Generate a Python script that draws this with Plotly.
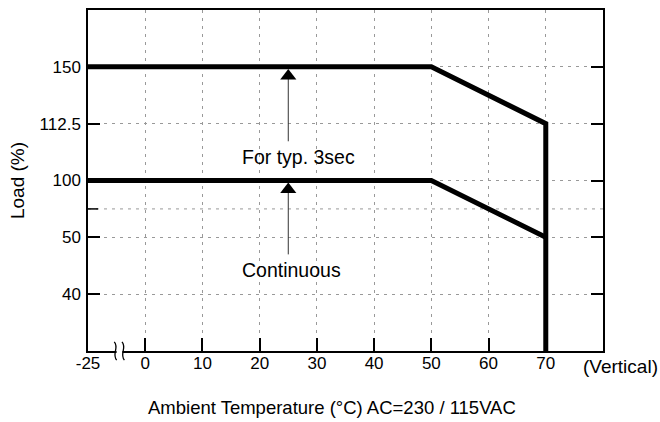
import numpy as np
import plotly.graph_objects as go

# ---- data ----
x_tick_labels = ["-25", "0", "10", "20", "30", "40", "50", "60", "70"]
x_tick_values = [-25, 0, 10, 20, 30, 40, 50, 60, 70]
y_tick_labels = ["40", "50", "100", "112.5", "150"]
y_tick_values = [40, 50, 100, 112.5, 150]

temp_3sec = [-25, 50, 70, 70]
load_3sec = [150, 150, 112.5, 0]      # 0 = down to the axis floor
temp_cont = [-25, 50, 70]
load_cont = [100, 100, 50]

# ---- broken scales (axis break after -25, stepped load axis) ----
X_BREAK_IN = [-25, 0, 80]
X_BREAK_OUT = [-10, 0, 80]
Y_IN = [0] + y_tick_values + [190]
Y_OUT = list(range(len(Y_IN)))


def sx(v):
    return np.interp(v, X_BREAK_IN, X_BREAK_OUT)


def sy(v):
    return np.interp(v, Y_IN, Y_OUT)


X_RANGE = [-10, 80]
Y_RANGE = [0, 6]
FONT = "Liberation Sans, Arial, sans-serif"
FS_TICK = 17
FS_TITLE = 18.5
FS_NOTE = 19.5

fig = go.Figure()

fig.add_trace(go.Scatter(x=sx(temp_3sec), y=sy(load_3sec), mode="lines",
                         line=dict(color="black", width=5), hoverinfo="skip",
                         showlegend=False))
fig.add_trace(go.Scatter(x=sx(temp_cont), y=sy(load_cont), mode="lines",
                         line=dict(color="black", width=5), hoverinfo="skip",
                         showlegend=False))

# arrows (shaft + triangle head)
arrow_x = 25
for level, shaft_bottom in [(150, 3.69), (100, 1.70)]:
    top = sy(level)
    fig.add_trace(go.Scatter(x=[arrow_x, arrow_x], y=[shaft_bottom, top - 0.2],
                             mode="lines", line=dict(color="#333", width=1),
                             hoverinfo="skip", showlegend=False))
    fig.add_trace(go.Scatter(x=[arrow_x], y=[top - 0.16], mode="markers",
                             marker=dict(symbol="triangle-up", size=14, color="black",
                                         line=dict(width=0)),
                             hoverinfo="skip", showlegend=False))

# labels
fig.add_annotation(x=16.6, y=3.41, xref="x", yref="y", text="For typ. 3sec",
                   showarrow=False, xanchor="left", yanchor="middle",
                   font=dict(family=FONT, size=FS_NOTE, color="black"))
fig.add_annotation(x=16.6, y=1.43, xref="x", yref="y", text="Continuous",
                   showarrow=False, xanchor="left", yanchor="middle",
                   font=dict(family=FONT, size=FS_NOTE, color="black"))
fig.add_annotation(x=1, y=0, xref="paper", yref="paper", text="(Vertical)",
                   showarrow=False, xanchor="left", yanchor="middle",
                   xshift=-22, yshift=-15,
                   font=dict(family=FONT, size=19, color="black"))
fig.add_annotation(x=0.5, y=0, xref="paper", yref="paper",
                   text="Ambient Temperature (°C) AC=230 / 115VAC",
                   showarrow=False, xanchor="center", yanchor="middle",
                   xshift=-14, yshift=-56,
                   font=dict(family=FONT, size=FS_TITLE, color="black"))


def px_x(v):
    return (v - X_RANGE[0]) / (X_RANGE[1] - X_RANGE[0])


# extra unlabeled gridline between 50 and 100
mid = 2.5
fig.add_shape(type="line", xref="paper", yref="y", x0=0, x1=1, y0=mid, y1=mid,
              line=dict(color="#999", width=1, dash="3px,5px"), layer="below")
fig.add_shape(type="line", xref="paper", yref="y", x0=0, x1=10 / 515, y0=mid, y1=mid,
              line=dict(color="black", width=1.5))

# axis break squiggles
h = 0.16 / (Y_RANGE[1] - Y_RANGE[0])
w = 4 / 515
fig.add_shape(type="rect", xref="paper", yref="paper",
              x0=px_x(-5.0), x1=px_x(-4.0), y0=-0.006, y1=0.006,
              line=dict(width=0), fillcolor="white", layer="above")
for cx in [-5.2, -3.85]:
    x0 = px_x(cx)
    path = (f"M {x0 - w*0.3},{h} C {x0 + w},{h*0.35} {x0 - w},{-h*0.35} {x0 + w*0.3},{-h}")
    fig.add_shape(type="path", xref="paper", yref="paper", path=path,
                  line=dict(color="black", width=1.3), layer="above")

fig.update_layout(
    width=660, height=422,
    margin=dict(l=88, r=57, t=8, b=71),
    paper_bgcolor="white", plot_bgcolor="white",
    font=dict(family=FONT, size=FS_TICK, color="black"),
    xaxis=dict(range=X_RANGE, tickvals=list(sx(x_tick_values)), ticktext=x_tick_labels,
               showline=True, linecolor="black", linewidth=1.5, mirror=True,
               ticks="inside", ticklen=13, tickwidth=1.5, tickcolor="black",
               showgrid=True, gridcolor="#999", gridwidth=1, griddash="3px,5px",
               zeroline=False, fixedrange=True, ticklabelstandoff=-4),
    yaxis=dict(range=Y_RANGE, tickvals=list(sy(y_tick_values)), ticktext=y_tick_labels,
               showline=True, linecolor="black", linewidth=1.5, mirror="ticks",
               ticks="inside", ticklen=12, tickwidth=1.5, tickcolor="black",
               showgrid=True, gridcolor="#999", gridwidth=1, griddash="3px,5px",
               zeroline=False, fixedrange=True, ticklabelstandoff=2,
               title=dict(text="Load (%)", standoff=10, font=dict(size=19))),
)

fig.write_html("out.html", config={"displayModeBar": False},
               post_script="document.body.style.margin='0';document.body.style.overflow='hidden';")
